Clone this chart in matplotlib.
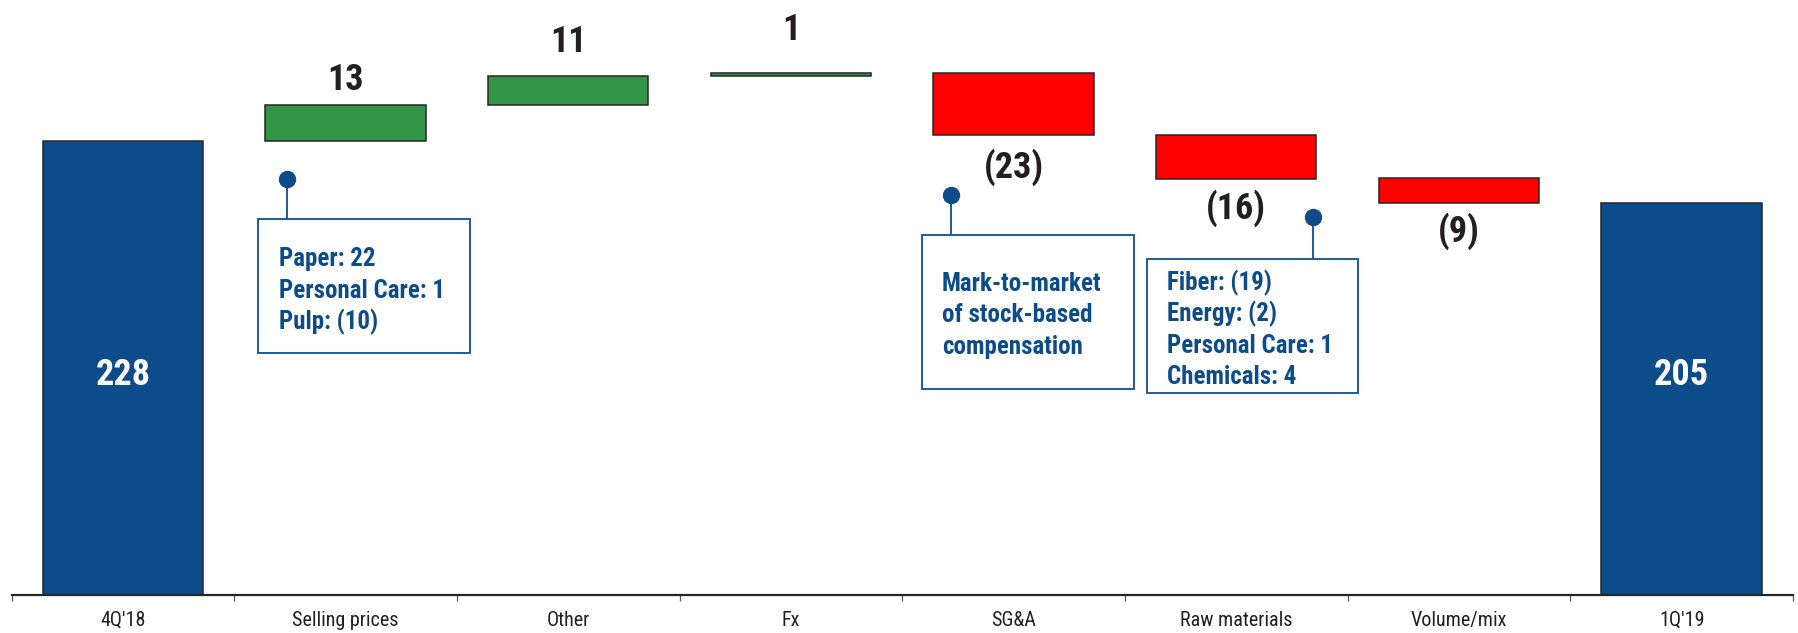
import matplotlib
matplotlib.use("Agg")
import matplotlib.pyplot as plt
from matplotlib import font_manager as fm
from matplotlib.patches import Rectangle

# ---------------- data ----------------
categories = ["4Q'18", "Selling prices", "Other", "Fx", "SG&A",
              "Raw materials", "Volume/mix", "1Q'19"]
start_value = 228
changes = [13, 11, 1, -23, -16, -9]
end_value = 205

box1_lines = ["Paper: 22", "Personal Care: 1", "Pulp: (10)"]
box2_lines = ["Mark-to-market", "of stock-based", "compensation"]
box3_lines = ["Fiber: (19)", "Energy: (2)", "Personal Care: 1", "Chemicals: 4"]

# ---------------- fonts ----------------
def has_bold(name):
    for f in fm.fontManager.ttflist:
        if f.name == name:
            w = f.weight if isinstance(f.weight, int) else (700 if "bold" in str(f.weight) else 400)
            if w >= 600:
                return True
    return False


FAM = ["DejaVu Sans"]
for cand in ["Roboto Condensed", "Pragati Narrow", "PT Sans Narrow", "Archivo Narrow"]:
    if has_bold(cand):
        FAM = [cand, "DejaVu Sans"]
        break

BLUE = "#0D4C8A"
GREEN = "#339447"
RED = "#FF0000"
EDGE = "#262626"
TXT = "#231F20"
BOXBLUE = "#1F5A99"

W, H = 1799, 633
fig = plt.figure(figsize=(W / 100, H / 100), dpi=100)
ax = fig.add_axes([11.5 / W, 38 / H, 1781.5 / W, 595 / H])
ax.set_xlim(-0.5, len(categories) - 0.5)
ax.set_ylim(60, 280)

# waterfall geometry
bottoms, heights, colors = [], [], []
bottoms.append(0); heights.append(start_value); colors.append(BLUE)
level = start_value
for c in changes:
    if c >= 0:
        bottoms.append(level); heights.append(c); colors.append(GREEN)
    else:
        bottoms.append(level + c); heights.append(-c); colors.append(RED)
    level += c
bottoms.append(0); heights.append(end_value); colors.append(BLUE)

xs = list(range(len(categories)))
ax.bar(xs, heights, bottom=bottoms, width=0.72, color=colors,
       edgecolor=EDGE, linewidth=1.1, zorder=3)

# value labels
above_gap_px = [15, 24, 33]
below_gap_px = [43, 40, 39]
ai = bi = 0
for i, c in enumerate(changes, start=1):
    if c >= 0:
        y = bottoms[i] + heights[i]
        ax.annotate(f"{c}", (i, y), xytext=(0, above_gap_px[ai] * 0.72),
                    textcoords="offset points", ha="center", va="baseline",
                    fontsize=26, fontweight="bold", family=FAM, color=TXT)
        ai += 1
    else:
        y = bottoms[i]
        ax.annotate(f"({-c})", (i, y), xytext=(0, -below_gap_px[bi] * 0.72),
                    textcoords="offset points", ha="center", va="baseline",
                    fontsize=26, fontweight="bold", family=FAM, color=TXT)
        bi += 1

for i, v in [(0, start_value), (len(categories) - 1, end_value)]:
    ax.text(i, 137.8, f"{v}", ha="center", va="baseline", fontsize=26,
            fontweight="bold", family=FAM, color="white", zorder=4)

# axes styling
for s in ["top", "right", "left"]:
    ax.spines[s].set_visible(False)
ax.spines["bottom"].set_color(EDGE)
ax.spines["bottom"].set_linewidth(1.6)
ax.spines["bottom"].set_zorder(5)
ax.set_yticks([])
ax.set_xticks([x - 0.5 for x in range(len(categories) + 1)])
ax.set_xticklabels([])
ax.set_xticks(xs, minor=True)
ax.set_xticklabels(categories, minor=True, fontsize=14.5, family=FAM, color=TXT)
ax.tick_params(axis="x", which="major", direction="out", length=4.5,
               width=0.9, color="#555555")
ax.tick_params(axis="x", which="minor", length=0, pad=11.5)


def callout(x0, x1, ytop, ybot, dot_x, dot_y, text_x, baselines, lines):
    ax.add_patch(Rectangle((x0, ybot), x1 - x0, ytop - ybot, fill=False,
                           edgecolor=BOXBLUE, linewidth=1.4, zorder=5))
    ax.plot([dot_x, dot_x], [dot_y, ytop], color=BOXBLUE, lw=1.4, zorder=5)
    ax.plot([dot_x], [dot_y], "o", color=BLUE, markersize=11.5, zorder=6)
    for yb, t in zip(baselines, lines):
        ax.text(text_x, yb, t, ha="left", va="baseline", fontsize=18,
                fontweight="bold", family=FAM, color=BLUE, zorder=6)


callout(0.607, 1.559, 199.0, 149.5, 0.737, 213.8, 0.701,
        [181.6, 169.8, 158.3], box1_lines)
callout(3.589, 4.541, 193.1, 136.2, 3.719, 207.9, 3.678,
        [172.4, 160.9, 149.1], box2_lines)
callout(4.599, 5.546, 184.2, 134.7, 5.344, 199.7, 4.689,
        [172.8, 161.3, 149.5, 138.0], box3_lines)

fig.savefig("out.png", dpi=100)
